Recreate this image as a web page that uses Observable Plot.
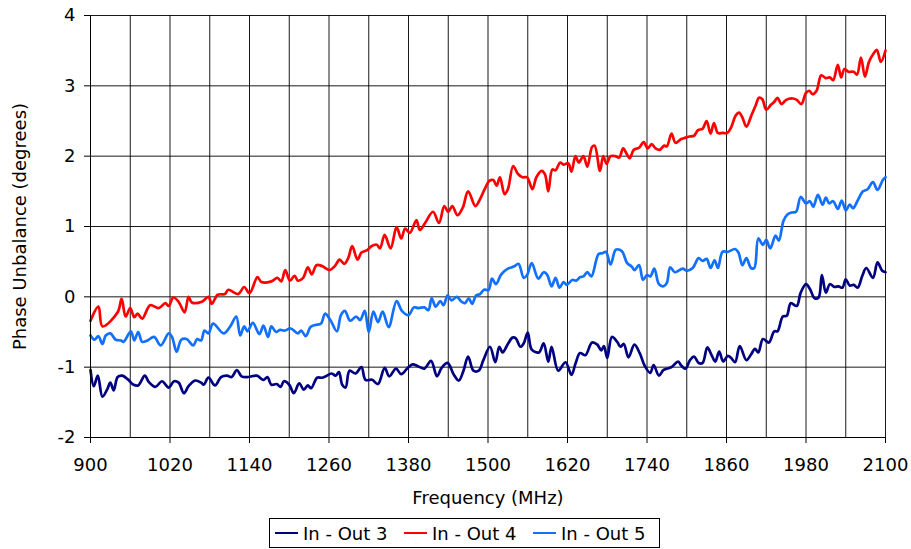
<!DOCTYPE html>
<html>
<head>
<meta charset="utf-8">
<script src="https://cdn.jsdelivr.net/npm/d3@7"></script>
<script src="https://cdn.jsdelivr.net/npm/@observablehq/plot@0.6"></script>
<style>
  html, body { margin: 0; padding: 0; background: #fff; }
  #wrap { position: relative; width: 911px; height: 549px; font-family: "DejaVu Sans", Verdana, sans-serif; }
  #legend { position: absolute; left: 269px; top: 518px; width: 389px; height: 28px; border: 1px solid #000;
            display: flex; align-items: center; font-size: 18px; color: #000; box-sizing: content-box; }
  .item { display: flex; align-items: center; }
  .sw { width: 23px; height: 0; border-top: 2.5px solid; margin-left: 5px; margin-right: 5px; }
  .lbl { width: 96px; white-space: nowrap; }
</style>
</head>
<body>
<div id="wrap"><div id="chart"></div><div id="legend"></div></div>
<script>
const seriesNames = ["In - Out 3", "In - Out 4", "In - Out 5"];
const seriesColors = ["#000080", "#ff0000", "#1270ff"];
const xTicks = [900, 1020, 1140, 1260, 1380, 1500, 1620, 1740, 1860, 1980, 2100];
const xGrid = [900, 960, 1020, 1080, 1140, 1200, 1260, 1320, 1380, 1440, 1500, 1560, 1620, 1680, 1740, 1800, 1860, 1920, 1980, 2040, 2100];
const yTicks = [-2, -1, 0, 1, 2, 3, 4];

const out3Freq = [900,905,911,918,925,930,935,941,948,956,965,972,982,988,998,1008,1018,1026,1033,1041,1048,1058,1067,1071,1078,1088,1097,1106,1113,1121,1128,1138,1151,1161,1167,1173,1181,1187,1192,
  1200,1207,1215,1222,1228,1233,1242,1249,1255,1264,1270,1275,1280,1285,1291,1300,1309,1315,1325,1334,1344,1351,1361,1369,1378,1386,1395,1404,1414,1423,1430,1439,1448,1456,1463,1470,1478,1486,1493,
  1503,1511,1517,1522,1530,1537,1542,1549,1554,1560,1566,1577,1584,1591,1596,1606,1617,1626,1632,1639,1647,1657,1665,1671,1675,1680,1687,1695,1700,1705,1712,1721,1729,1737,1745,1750,1758,1765,1777,1787,1792,1798,
  1805,1811,1818,1824,1831,1838,1843,1849,1855,1862,1867,1873,1880,1890,1897,1903,1908,1915,1924,1932,1937,1945,1951,1957,1966,1972,1980,1986,1993,1999,2004,2010,2016,2023,2029,2035,2040,2046,2052,2058,2065,2071,2081,2088,2095,2100];
const out3Phase = [-1.04,-1.27,-1.12,-1.42,-1.32,-1.22,-1.33,-1.14,-1.12,-1.17,-1.25,-1.26,-1.12,-1.21,-1.28,-1.20,-1.29,-1.20,-1.22,-1.37,-1.27,-1.19,-1.22,-1.25,-1.15,-1.26,-1.14,-1.12,-1.14,-1.04,-1.13,-1.14,-1.12,-1.18,-1.14,-1.25,-1.24,-1.28,-1.20,
  -1.25,-1.37,-1.23,-1.32,-1.26,-1.30,-1.15,-1.15,-1.13,-1.09,-1.12,-1.07,-1.25,-1.29,-1.05,-1.09,-1.00,-1.18,-1.18,-1.24,-1.01,-1.13,-1.02,-1.10,-1.02,-0.96,-0.99,-1.02,-0.91,-1.13,-1.01,-0.94,-1.10,-1.19,-1.05,-0.85,-1.05,-1.05,-0.90,
  -0.71,-0.93,-0.71,-0.79,-0.67,-0.58,-0.59,-0.71,-0.66,-0.51,-0.75,-0.79,-0.66,-0.92,-0.71,-1.05,-0.93,-1.11,-0.95,-0.80,-0.83,-0.65,-0.68,-0.76,-0.70,-0.87,-0.57,-0.64,-0.71,-0.67,-0.86,-0.68,-0.80,-0.99,-1.08,-0.97,-1.12,-1.04,-1.00,-0.92,-0.98,-1.02,
  -0.90,-0.85,-0.94,-0.94,-0.72,-0.84,-0.92,-0.78,-0.92,-0.84,-0.87,-0.93,-0.70,-0.90,-0.82,-0.74,-0.79,-0.60,-0.65,-0.49,-0.49,-0.28,-0.27,-0.09,-0.13,0.06,0.18,0.11,-0.02,-0.01,0.31,0.06,0.18,0.14,0.15,0.13,0.25,0.16,0.17,0.13,0.30,0.41,0.27,0.49,0.37,0.35];

const out4Freq = [900,912,918,941,947,953,960,966,971,978,990,1003,1013,1018,1025,1033,1042,1048,1053,1068,1078,1083,1092,1103,1108,1123,1132,1140,1152,1158,1173,1182,1188,1194,1201,1208,1213,1221,1228,1234,1241,1249,1261,1269,1276,1283,1289,1295,1303,1309,1317,1324,1332,1337,1344,1353,1362,1369,1375,1382,1392,1397,1405,1417,1426,1434,1440,1446,1454,1462,1470,1481,1488,1495,
  1502,1508,1513,1518,1525,1530,1538,1545,1552,1559,1567,1573,1581,1586,1591,1597,1602,1609,1614,1621,1626,1632,1637,1644,1650,1657,1661,1669,1674,1679,1685,1692,1698,1704,1710,1714,1720,1728,1735,1741,1747,1753,1759,1766,1770,1777,1783,1791,1797,
  1804,1811,1817,1824,1830,1836,1841,1847,1854,1861,1867,1874,1879,1884,1890,1898,1904,1909,1914,1920,1927,1932,1937,1943,1950,1960,1966,1973,1980,1985,1990,1996,2003,2010,2016,2021,2028,2033,2038,2044,2052,2057,2063,2069,2075,2082,2087,2093,2100];
const out4Phase = [-0.34,-0.14,-0.42,-0.22,-0.03,-0.28,-0.16,-0.29,-0.24,-0.31,-0.12,-0.16,-0.09,-0.13,-0.01,-0.07,-0.22,0.00,-0.08,-0.07,0.00,-0.10,0.03,0.04,0.10,0.04,0.14,0.05,0.28,0.21,0.22,0.27,0.22,0.38,0.23,0.30,0.23,0.27,0.42,0.32,0.45,0.44,0.38,0.44,0.53,0.47,0.55,0.72,0.53,0.63,0.66,0.72,0.74,0.69,0.88,0.69,0.99,0.83,0.97,0.91,1.09,0.95,1.05,1.21,1.05,1.29,1.21,1.29,1.16,1.27,1.50,1.29,1.39,1.53,
  1.65,1.66,1.58,1.70,1.46,1.53,1.86,1.75,1.70,1.70,1.53,1.70,1.79,1.74,1.50,1.81,1.80,1.91,1.88,1.90,1.78,2.00,1.91,2.00,1.85,2.13,2.15,1.79,2.00,1.89,2.00,2.00,1.98,2.11,2.02,1.97,2.09,2.12,2.20,2.11,2.17,2.11,2.09,2.15,2.14,2.32,2.19,2.24,2.26,
  2.28,2.29,2.37,2.39,2.50,2.32,2.47,2.33,2.33,2.33,2.41,2.58,2.62,2.55,2.42,2.59,2.72,2.83,2.81,2.66,2.73,2.77,2.83,2.74,2.80,2.82,2.80,2.74,2.90,2.93,2.88,2.93,3.15,3.11,3.12,3.08,3.30,3.12,3.24,3.20,3.20,3.16,3.40,3.13,3.34,3.46,3.51,3.34,3.50];

const out5Freq = [900,906,912,918,923,930,938,946,950,961,966,972,978,986,996,1006,1018,1023,1030,1037,1045,1055,1061,1067,1072,1078,1085,1101,1111,1120,1126,1132,1137,1145,1155,1161,1168,1173,1180,1186,1193,
  1202,1213,1218,1225,1232,1239,1248,1254,1262,1272,1278,1284,1292,1301,1307,1314,1320,1327,1334,1341,1350,1362,1370,1380,1388,1395,1404,1410,1415,1421,1428,1433,1439,1445,1453,1459,1465,1471,1476,1482,1488,1494,
  1501,1506,1512,1520,1530,1539,1546,1554,1559,1566,1576,1584,1589,1596,1602,1608,1614,1619,1627,1633,1639,1644,1650,1656,1667,1673,1678,1685,1693,1702,1710,1717,1721,1728,1734,1740,1745,1751,1758,1765,1770,1775,1782,1794,
  1800,1809,1818,1824,1830,1836,1842,1847,1854,1862,1873,1878,1884,1890,1897,1902,1908,1915,1920,1926,1934,1939,1946,1952,1959,1965,1972,1980,1986,1991,1998,2005,2010,2015,2021,2028,2034,2040,2046,2051,2058,2066,2073,2081,2088,2096,2100];
const out5Phase = [-0.55,-0.61,-0.56,-0.67,-0.55,-0.52,-0.61,-0.62,-0.64,-0.49,-0.62,-0.50,-0.64,-0.62,-0.57,-0.69,-0.52,-0.57,-0.78,-0.61,-0.60,-0.69,-0.60,-0.62,-0.48,-0.52,-0.38,-0.52,-0.42,-0.28,-0.55,-0.42,-0.49,-0.37,-0.53,-0.41,-0.57,-0.42,-0.50,-0.47,-0.48,
  -0.45,-0.52,-0.48,-0.56,-0.43,-0.40,-0.38,-0.24,-0.33,-0.49,-0.26,-0.20,-0.34,-0.28,-0.33,-0.20,-0.50,-0.21,-0.36,-0.21,-0.43,-0.06,-0.20,-0.26,-0.15,-0.16,-0.15,-0.19,-0.02,-0.14,-0.06,-0.12,0.02,-0.05,0.00,-0.06,-0.09,-0.02,-0.10,0.02,0.04,0.10,
  0.10,0.26,0.18,0.32,0.40,0.43,0.47,0.27,0.31,0.48,0.26,0.35,0.32,0.15,0.27,0.13,0.21,0.17,0.24,0.23,0.28,0.29,0.35,0.29,0.61,0.62,0.64,0.46,0.67,0.65,0.48,0.43,0.38,0.45,0.24,0.31,0.29,0.40,0.18,0.15,0.20,0.42,0.35,0.40,
  0.37,0.41,0.55,0.51,0.54,0.41,0.52,0.41,0.64,0.64,0.68,0.63,0.45,0.55,0.41,0.41,0.83,0.74,0.81,0.69,0.87,0.80,1.08,1.17,1.20,1.21,1.42,1.33,1.36,1.28,1.45,1.31,1.41,1.33,1.36,1.25,1.37,1.23,1.31,1.26,1.37,1.50,1.53,1.63,1.52,1.66,1.70];

const allFreqs = [out3Freq, out4Freq, out5Freq];
const allPhases = [out3Phase, out4Phase, out5Phase];
const data = [];
allFreqs.forEach((fs, s) => fs.forEach((f, i) => data.push({series: seriesNames[s], freq: f, phase: allPhases[s][i]})));

const chart = Plot.plot({
  width: 911,
  height: 512,
  marginLeft: 90,
  marginRight: 26,
  marginTop: 15,
  marginBottom: 75,
  style: {fontFamily: "'DejaVu Sans', Verdana, sans-serif", fontSize: "18px", color: "#000", background: "#fff", overflow: "visible"},
  x: {domain: [900, 2100]},
  y: {domain: [-2, 4]},
  color: {domain: seriesNames, range: seriesColors},
  marks: [
    Plot.gridX(xGrid, {stroke: "#000", strokeOpacity: 0.9, strokeWidth: 1}),
    Plot.gridY(yTicks, {stroke: "#000", strokeOpacity: 0.9, strokeWidth: 1}),
    Plot.line(data, {x: "freq", y: "phase", z: "series", stroke: "series", strokeWidth: 2.7, curve: "catmull-rom", strokeLinejoin: "round", strokeLinecap: "round"}),
    Plot.ruleX([900], {stroke: "#000", strokeWidth: 1}),
    Plot.ruleY([-2], {stroke: "#000", strokeWidth: 1}),
    Plot.axisX(xTicks, {tickSize: 6, tickPadding: 15, label: "Frequency (MHz)", labelAnchor: "center", labelArrow: "none", labelOffset: 66, tickFormat: d => String(d)}),
    Plot.axisY(yTicks, {tickSize: 6, tickPadding: 9, label: "Phase Unbalance (degrees)", labelAnchor: "center", labelArrow: "none", labelOffset: 77, tickFormat: d => String(d)})
  ]
});
document.getElementById("chart").appendChild(chart);

const legend = document.getElementById("legend");
seriesNames.forEach((name, i) => {
  const item = document.createElement("div");
  item.className = "item";
  const sw = document.createElement("div");
  sw.className = "sw";
  sw.style.borderTopColor = seriesColors[i];
  const lbl = document.createElement("span");
  lbl.className = "lbl";
  lbl.textContent = name;
  item.appendChild(sw);
  item.appendChild(lbl);
  legend.appendChild(item);
});
</script>
</body>
</html>
